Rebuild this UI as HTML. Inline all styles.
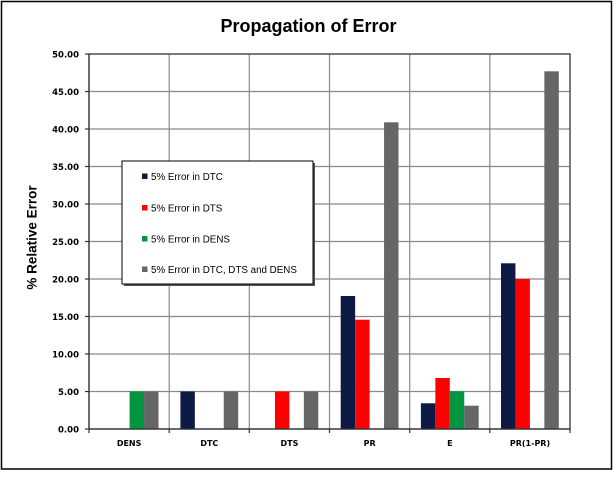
<!DOCTYPE html>
<html><head><meta charset="utf-8"><style>
html,body{margin:0;padding:0;background:#fff;}
svg{display:block;}
</style></head><body>
<svg width="616" height="479" viewBox="0 0 616 479" xmlns="http://www.w3.org/2000/svg">
<rect x="0" y="0" width="616" height="479" fill="#fff"/>
<rect x="1.5" y="1.5" width="610" height="467.5" fill="#fff" stroke="#000" stroke-width="1.5"/>
<text x="308.5" y="32" text-anchor="middle" font-family="Liberation Sans, sans-serif" font-weight="bold" font-size="18" fill="#000">Propagation of Error</text>
<g stroke="#8a8a8a" stroke-width="1.2">
<line x1="89" y1="391.5" x2="570" y2="391.5"/>
<line x1="89" y1="354" x2="570" y2="354"/>
<line x1="89" y1="316.5" x2="570" y2="316.5"/>
<line x1="89" y1="279" x2="570" y2="279"/>
<line x1="89" y1="241.5" x2="570" y2="241.5"/>
<line x1="89" y1="204" x2="570" y2="204"/>
<line x1="89" y1="166.5" x2="570" y2="166.5"/>
<line x1="89" y1="129" x2="570" y2="129"/>
<line x1="89" y1="91.5" x2="570" y2="91.5"/>
<line x1="169.2" y1="54" x2="169.2" y2="429"/>
<line x1="249.3" y1="54" x2="249.3" y2="429"/>
<line x1="329.5" y1="54" x2="329.5" y2="429"/>
<line x1="409.7" y1="54" x2="409.7" y2="429"/>
<line x1="489.8" y1="54" x2="489.8" y2="429"/>
</g>
<rect x="89" y="54" width="481" height="375" fill="none" stroke="#333" stroke-width="1.3"/>
<g>
<rect x="129.6" y="391.5" width="14.45" height="37.5" fill="#00953f"/>
<rect x="144.05" y="391.5" width="14.45" height="37.5" fill="#666666"/>
<rect x="180.4" y="391.5" width="14.45" height="37.5" fill="#0c1a45"/>
<rect x="223.75" y="391.5" width="14.45" height="37.5" fill="#666666"/>
<rect x="274.95" y="391.5" width="14.45" height="37.5" fill="#ff0000"/>
<rect x="303.85" y="391.5" width="14.45" height="37.5" fill="#666666"/>
<rect x="340.7" y="296" width="14.45" height="133" fill="#0c1a45"/>
<rect x="355.15" y="319.7" width="14.45" height="109.3" fill="#ff0000"/>
<rect x="384.05" y="122.3" width="14.45" height="306.7" fill="#666666"/>
<rect x="420.9" y="403.3" width="14.45" height="25.7" fill="#0c1a45"/>
<rect x="435.35" y="378" width="14.45" height="51" fill="#ff0000"/>
<rect x="449.8" y="391.3" width="14.45" height="37.7" fill="#00953f"/>
<rect x="464.25" y="405.7" width="14.45" height="23.3" fill="#666666"/>
<rect x="501" y="263.3" width="14.45" height="165.7" fill="#0c1a45"/>
<rect x="515.45" y="279" width="14.45" height="150" fill="#ff0000"/>
<rect x="544.35" y="71.3" width="14.45" height="357.7" fill="#666666"/>
</g>
<g stroke="#333" stroke-width="1.2">
<line x1="89" y1="54" x2="89" y2="429"/>
<line x1="89" y1="429" x2="570" y2="429"/>
<line x1="85" y1="54" x2="89" y2="54"/>
<line x1="85" y1="91.5" x2="89" y2="91.5"/>
<line x1="85" y1="129" x2="89" y2="129"/>
<line x1="85" y1="166.5" x2="89" y2="166.5"/>
<line x1="85" y1="204" x2="89" y2="204"/>
<line x1="85" y1="241.5" x2="89" y2="241.5"/>
<line x1="85" y1="279" x2="89" y2="279"/>
<line x1="85" y1="316.5" x2="89" y2="316.5"/>
<line x1="85" y1="354" x2="89" y2="354"/>
<line x1="85" y1="391.5" x2="89" y2="391.5"/>
<line x1="85" y1="429" x2="89" y2="429"/>
<line x1="89" y1="429" x2="89" y2="433"/>
<line x1="169.2" y1="429" x2="169.2" y2="433"/>
<line x1="249.3" y1="429" x2="249.3" y2="433"/>
<line x1="329.5" y1="429" x2="329.5" y2="433"/>
<line x1="409.7" y1="429" x2="409.7" y2="433"/>
<line x1="489.8" y1="429" x2="489.8" y2="433"/>
<line x1="570" y1="429" x2="570" y2="433"/>
</g>
<g font-family="DejaVu Sans, sans-serif" font-weight="bold" font-size="8.5" fill="#000" text-anchor="end">
<text x="79" y="57.5">50.00</text>
<text x="79" y="95">45.00</text>
<text x="79" y="132.5">40.00</text>
<text x="79" y="170">35.00</text>
<text x="79" y="207.5">30.00</text>
<text x="79" y="245">25.00</text>
<text x="79" y="282.5">20.00</text>
<text x="79" y="320">15.00</text>
<text x="79" y="357.5">10.00</text>
<text x="79" y="395">5.00</text>
<text x="79" y="432.5">0.00</text>
</g>
<g font-family="DejaVu Sans, sans-serif" font-weight="bold" font-size="8" fill="#000" text-anchor="middle">
<text x="129.1" y="446">DENS</text>
<text x="209.3" y="446">DTC</text>
<text x="289.4" y="446">DTS</text>
<text x="369.6" y="446">PR</text>
<text x="449.8" y="446">E</text>
<text x="530" y="446">PR(1-PR)</text>
</g>
<text transform="translate(36.5,237.5) rotate(-90)" text-anchor="middle" font-family="Liberation Sans, sans-serif" font-weight="bold" font-size="13.5" fill="#000">% Relative Error</text>
<rect x="124" y="163" width="191" height="123" fill="#555"/>
<rect x="122" y="161" width="191" height="123" fill="#fff" stroke="#000" stroke-width="1"/>
<rect x="142" y="173.5" width="5.5" height="5.5" fill="#0c1a45"/>
<rect x="142" y="205" width="5.5" height="5.5" fill="#ff0000"/>
<rect x="142" y="236" width="5.5" height="5.5" fill="#00953f"/>
<rect x="142" y="266.5" width="5.5" height="5.5" fill="#666666"/>
<g font-family="Liberation Sans, sans-serif" font-size="9.8" fill="#000">
<text x="151" y="179.8">5% Error in DTC</text>
<text x="151" y="211.3">5% Error in DTS</text>
<text x="151" y="242.3">5% Error in DENS</text>
<text x="151" y="272.8">5% Error in DTC, DTS and DENS</text>
</g>
</svg>
</body></html>
